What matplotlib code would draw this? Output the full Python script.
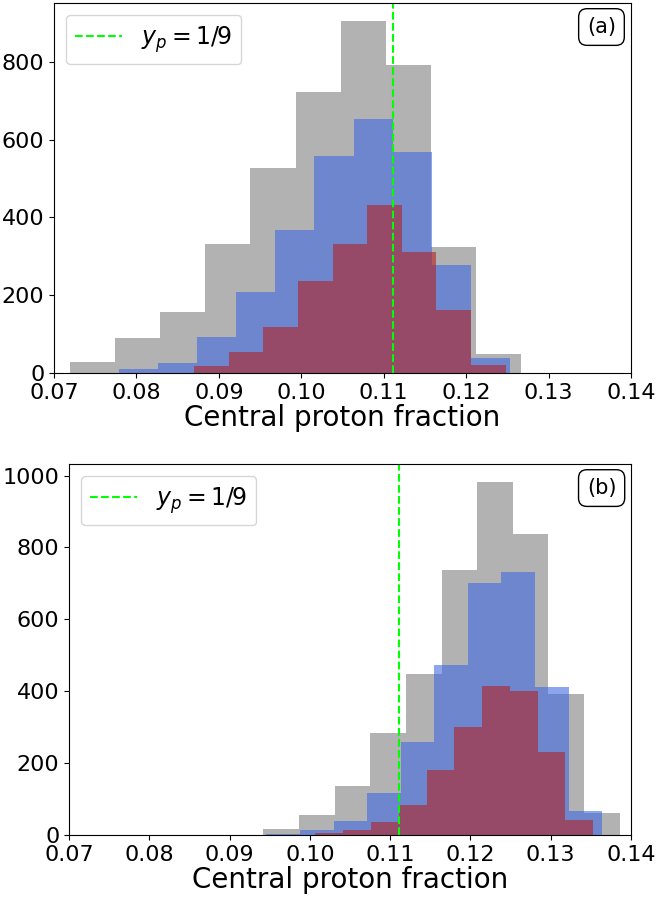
import numpy as np
import matplotlib
matplotlib.use('Agg')
import matplotlib.pyplot as plt

# panel (a): bin range (first edge, last edge) and counts for each sample
a_gray_range = (0.0719, 0.1267)
a_gray = [28, 89, 158, 331, 528, 722, 906, 791, 323, 50]
a_blue_range = (0.0779, 0.1253)
a_blue = [10, 25, 92, 207, 368, 558, 653, 568, 278, 39]
a_red_range = (0.0870, 0.1248)
a_red = [18, 55, 118, 237, 332, 432, 311, 163, 21]

# panel (b)
b_gray_range = (0.0942, 0.1386)
b_gray = [16, 56, 136, 283, 448, 737, 983, 836, 391, 62]
b_blue_range = (0.0946, 0.1364)
b_blue = [4, 13, 40, 116, 258, 473, 700, 731, 412, 67]
b_red_range = (0.1007, 0.1353)
b_red = [5, 14, 35, 83, 181, 301, 414, 400, 231, 42]

yp = 1 / 9
xticks = [0.07, 0.08, 0.09, 0.10, 0.11, 0.12, 0.13, 0.14]


def draw_hist(ax, rng, counts, color):
    edges = np.linspace(rng[0], rng[1], len(counts) + 1)
    ax.hist(edges[:-1], bins=edges, weights=counts, color=color, alpha=0.6)


def panel(ax, data, tag):
    for rng, counts, color in data:
        draw_hist(ax, rng, counts, color)
    ax.axvline(yp, color='lime', ls='--', lw=1.5, label=r'$y_p = 1/9$')
    ax.set_xlim(0.07, 0.14)
    ax.set_xticks(xticks)
    ax.set_xticklabels(['%.2f' % t for t in xticks])
    ax.tick_params(labelsize=16)
    ax.set_xlabel('Central proton fraction', fontsize=20, labelpad=1)
    ax.legend(loc='upper left', fontsize=17)
    ax.text(0.974, 0.962, tag, transform=ax.transAxes, ha='right', va='top', fontsize=15,
            bbox=dict(boxstyle='round,pad=0.4', fc='white', ec='black'))


fig = plt.figure(figsize=(6.57, 8.99), dpi=100)
ax1 = fig.add_axes([0.0822, 0.5851, 0.8782, 0.4116])
ax2 = fig.add_axes([0.1050, 0.0712, 0.8554, 0.4127])

panel(ax1, [(a_gray_range, a_gray, 'gray'), (a_blue_range, a_blue, 'royalblue'),
            (a_red_range, a_red, 'firebrick')], '(a)')
panel(ax2, [(b_gray_range, b_gray, 'gray'), (b_blue_range, b_blue, 'royalblue'),
            (b_red_range, b_red, 'firebrick')], '(b)')

fig.savefig('out.png', dpi=100)
